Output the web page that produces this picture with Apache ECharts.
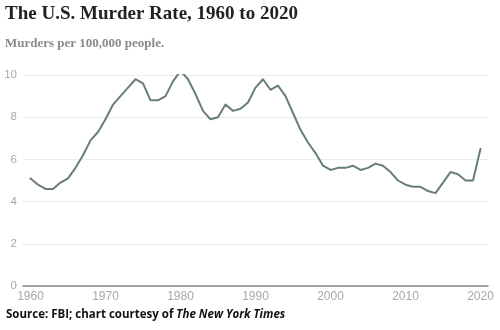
<!DOCTYPE html>
<html>
<head>
<meta charset="utf-8">
<script src="https://cdn.jsdelivr.net/npm/echarts@6/dist/echarts.min.js"></script>
<style>html,body{margin:0;padding:0;background:#fff;}#c{width:500px;height:330px;}</style>
</head>
<body>
<div id="c"></div>
<script>
const years = [1960,1961,1962,1963,1964,1965,1966,1967,1968,1969,
  1970,1971,1972,1973,1974,1975,1976,1977,1978,1979,
  1980,1981,1982,1983,1984,1985,1986,1987,1988,1989,
  1990,1991,1992,1993,1994,1995,1996,1997,1998,1999,
  2000,2001,2002,2003,2004,2005,2006,2007,2008,2009,
  2010,2011,2012,2013,2014,2015,2016,2017,2018,2019,2020];
const murderRate = [5.1,4.8,4.6,4.6,4.9,5.1,5.6,6.2,6.9,7.3,
  7.9,8.6,9.0,9.4,9.8,9.6,8.8,8.8,9.0,9.7,
  10.2,9.8,9.1,8.3,7.9,8.0,8.6,8.3,8.4,8.7,
  9.4,9.8,9.3,9.5,9.0,8.2,7.4,6.8,6.3,5.7,
  5.5,5.6,5.6,5.7,5.5,5.6,5.8,5.7,5.4,5.0,
  4.8,4.7,4.7,4.5,4.4,4.9,5.4,5.3,5.0,5.0,6.5];
const xTicks = [1960,1970,1980,1990,2000,2010,2020];
const yTicks = [0,2,4,6,8,10];

const chart = echarts.init(document.getElementById('c'), null, {renderer:'canvas'});
chart.setOption({
  backgroundColor:'#fff',
  animation:false,
  title:[
    {text:'The U.S. Murder Rate, 1960 to 2020', left:5, top:5, padding:0,
     textStyle:{fontFamily:'Liberation Serif', fontWeight:'bold', fontSize:19, color:'#222'}},
    {text:'Murders per 100,000 people.', left:5, top:37, padding:0,
     textStyle:{fontFamily:'Liberation Serif', fontWeight:'bold', fontSize:13, color:'#8a8a8a'}},
    {text:'{a|Source: FBI; chart courtesy of }{b|The New York Times}', left:6, top:309, padding:0,
     textStyle:{rich:{
       a:{fontFamily:'Open Sans', fontWeight:'bold', fontSize:11.5, color:'#111'},
       b:{fontFamily:'Open Sans', fontWeight:'bold', fontStyle:'italic', fontSize:11.5, color:'#111'}}}}
  ],
  grid:{left:23, right:12, top:75, bottom:44, containLabel:false},
  xAxis:{type:'value', min:1959, max:2021, interval:1,
    axisLine:{show:true, lineStyle:{color:'#8c8c8c', width:1.5}},
    axisTick:{show:false}, splitLine:{show:false},
    axisLabel:{margin:5, color:'#a8a8a8', fontSize:12, fontFamily:'Liberation Sans',
      formatter:function(v){return xTicks.indexOf(v)>=0 ? String(v) : '';}}},
  yAxis:{type:'value', min:0, max:10, interval:2,
    axisLine:{show:false}, axisTick:{show:false},
    splitLine:{show:true, lineStyle:{color:'#ebebeb', width:1}},
    axisLabel:{margin:6, color:'#a8a8a8', fontSize:11.5, fontFamily:'Liberation Sans',
      formatter:function(v){return yTicks.indexOf(v)>=0 ? String(v) : '';}}},
  series:[{type:'line', data:years.map((y,i)=>[y, murderRate[i]]),
    showSymbol:false, symbol:'none',
    lineStyle:{color:'#687d7d', width:2, join:'round', cap:'round'}}]
});
</script>
</body>
</html>
